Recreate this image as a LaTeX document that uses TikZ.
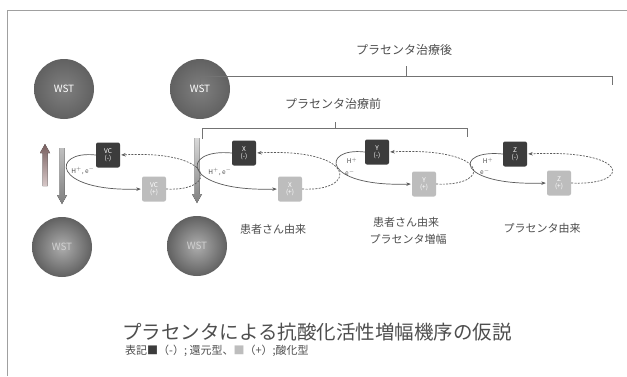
\documentclass[tikz,border=0pt]{standalone}
\usepackage{fontspec}
\setmainfont{Noto Sans CJK JP}
\usetikzlibrary{arrows.meta,shadings}
\definecolor{txt}{HTML}{4E4E4E}
\definecolor{linec}{HTML}{5A5A5A}
\definecolor{boxdark}{HTML}{3C3C3C}
\definecolor{boxlight}{HTML}{BDBDBD}
\definecolor{frame}{HTML}{A0A0A0}
\begin{document}
\begin{tikzpicture}[x=1pt,y=-1pt,
  topball/.style={circle, minimum size=60pt, inner sep=0pt, inner color=black!50, outer color=black!62, text=white, font=\fontsize{10}{12}\selectfont},
  botball/.style={circle, minimum size=60pt, inner sep=0pt, inner color=black!32, outer color=black!62, text=black!18, font=\fontsize{10}{12}\selectfont},
  redbox/.style={rectangle, rounded corners=2pt, minimum width=24pt, minimum height=25pt, inner sep=0pt, fill=boxdark, text=white, align=center, font=\fontsize{6.5}{7}\selectfont},
  oxbox/.style={redbox, fill=boxlight},
  solidarr/.style={draw=linec, line width=0.7pt, -{Stealth[length=4.5pt,width=3.5pt]}, shorten >=1pt},
  dasharr/.style={draw=linec, line width=0.7pt, dash pattern=on 2pt off 1.3pt, -{Stealth[length=4.5pt,width=3.5pt]}, shorten >=1pt},
  brk/.style={draw=black!55, line width=0.7pt},
  lbl/.style={text=txt, font=\fontsize{11}{13}\selectfont},
  small/.style={text=txt, font=\fontsize{6.5}{7}\selectfont, inner sep=0.5pt}
]
\useasboundingbox (0,0) rectangle (627,376);
\fill[white] (0,0) rectangle (627,376);
% slide frame
\draw[frame, line width=0.8pt] (7,376) -- (7,10) -- (627,10);

% balls
\node[topball] (wst1) at (64,89) {WST};
\node[topball] (wst2) at (200,89) {WST};
\node[botball] (ws1) at (62,247) {WST};
\node[botball] (ws2) at (197,246) {WST};

% vertical arrows
\fill[top color=black!25, bottom color=black!50] (59.5,148) -- (64.5,148) -- (64.5,195) -- (67,195) -- (62,204) -- (57,195) -- (59.5,195) -- cycle;
\fill[top color=black!15, bottom color=black!50] (194.5,138) -- (199.5,138) -- (199.5,194) -- (202,194) -- (197,203) -- (192,194) -- (194.5,194) -- cycle;
\fill[top color={rgb,255:red,120;green,95;blue,95}, bottom color={rgb,255:red,215;green,200;blue,200}] (42.5,186) -- (47.5,186) -- (47.5,153) -- (50,153) -- (45,144) -- (40,153) -- (42.5,153) -- cycle;

% brackets
\node[lbl, font=\fontsize{12}{14}\selectfont] (after) at (404,50) {プラセンタ治療後};
\draw[brk] (200,85) -- (200,76) -- (612,76) -- (612,85);
\draw[brk] (406,76) -- (406,66);
\node[lbl, font=\fontsize{12}{14}\selectfont] (before) at (333,104) {プラセンタ治療前};
\draw[brk] (202,139) -- (202,128) -- (467,128) -- (467,137);
\draw[brk] (335,128) -- (335,122);

% boxes
\node[redbox] (vcm) at (108,155) {VC\\(-)};
\node[oxbox]  (vcp) at (154,189) {VC\\(+)};
\node[redbox] (xm) at (244,153) {X\\(-)};
\node[oxbox]  (xp) at (290,189) {X\\(+)};
\node[redbox] (ym) at (377,152) {Y\\(-)};
\node[oxbox]  (yp) at (424,184) {Y\\(+)};
\node[redbox] (zm) at (515,154) {Z\\(-)};
\node[oxbox]  (zp) at (559,183) {Z\\(+)};

% cycles
\draw[solidarr] (vcm.west) .. controls (51,150) and (51,192) .. (vcp.west);
\draw[dasharr] (vcp.east) .. controls (218,192) and (218,150) .. (vcm.east);
\draw[solidarr] (xm.west) .. controls (180,148) and (180,192) .. (xp.west);
\draw[dasharr] (xp.east) .. controls (358,192) and (358,148) .. (xm.east);
\draw[solidarr] (ym.west) .. controls (321,147) and (321,187) .. (yp.west);
\draw[dasharr] (yp.east) .. controls (492,187) and (492,147) .. (ym.east);
\draw[solidarr] (zm.west) .. controls (454,149) and (454,186) .. (zp.west);
\draw[dasharr] (zp.east) .. controls (632,186) and (632,149) .. (zm.east);

% H+, e- labels
\node[small] (he1) at (83,171) {H$^{+}$, e$^{-}$};
\node[small] (he2) at (220,172) {H$^{+}$, e$^{-}$};
\node[small] (h3) at (352,161) {H$^{+}$};
\node[small] (e3) at (350,173) {e$^{-}$};
\node[small] (h4) at (488,161) {H$^{+}$};
\node[small] (e4) at (485,172) {e$^{-}$};

% origin labels
\node[lbl] (o1) at (273,229) {患者さん由来};
\node[lbl] (o2a) at (406,222) {患者さん由来};
\node[lbl] (o2b) at (408,239) {プラセンタ増幅};
\node[lbl] (o3) at (542,228) {プラセンタ由来};

% title
\node[text=txt, font=\fontsize{19.5}{22}\selectfont, anchor=west, inner sep=0pt] (title) at (122,332) {プラセンタによる抗酸化活性増幅機序の仮説};
\node[text=txt, font=\fontsize{11}{13}\selectfont, anchor=west, inner sep=0pt] (sub) at (125,351) {表記{\color{boxdark}■}（-）; 還元型、{\color{boxlight}■}（+）;酸化型};
\end{tikzpicture}
\end{document}
